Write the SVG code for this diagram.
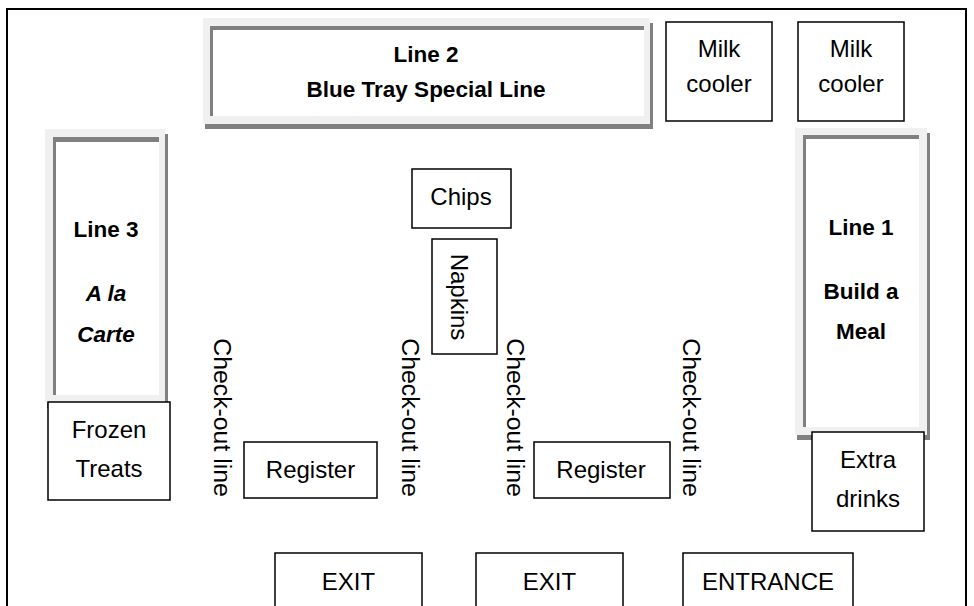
<svg xmlns="http://www.w3.org/2000/svg" width="974" height="606" viewBox="0 0 974 606">
<style>
.bg{fill:#fff}
.border{fill:none;stroke:#000;stroke-width:2}
.box{fill:#fff;stroke:#000;stroke-width:1.5}
.sh{fill:#808080}
.lg{fill:#f0f0f0}
.dk{fill:#808080}
.wh{fill:#fff}
.t{font-family:"Liberation Sans",Arial,sans-serif;font-size:24px;fill:#000;text-anchor:middle}
.b{font-weight:bold;font-size:22.5px}
.i{font-style:italic}
.c{font-size:24.8px}
</style>
<rect class="bg" x="0" y="0" width="974" height="606"/>
<rect id="room" class="border" x="7" y="9" width="959" height="620"/>

<g id="line2">
  <rect class="sh" x="205" y="23" width="448" height="106"/>
  <rect class="lg" x="203" y="18" width="447" height="106"/>
  <rect class="dk" x="210" y="26" width="434" height="90"/>
  <rect class="wh" x="213" y="30" width="431" height="86"/>
  <text class="t b" x="426" y="62">Line 2</text>
  <text class="t b" x="426" y="97">Blue Tray Special Line</text>
</g>

<g id="line3">
  <rect class="sh" x="47" y="134" width="121" height="274"/>
  <rect class="lg" x="45" y="129" width="120" height="274"/>
  <rect class="dk" x="53" y="137" width="106" height="258"/>
  <rect class="wh" x="56" y="142" width="103" height="253"/>
  <text class="t b" x="106" y="237">Line 3</text>
  <text class="t b i" x="106" y="301">A la</text>
  <text class="t b i" x="106" y="342">Carte</text>
</g>

<g id="line1">
  <rect class="sh" x="797" y="133" width="133" height="307"/>
  <rect class="lg" x="795" y="128" width="132" height="307"/>
  <rect class="dk" x="803" y="135" width="116" height="292"/>
  <rect class="wh" x="806" y="139" width="113" height="288"/>
  <text class="t b" x="861" y="235">Line 1</text>
  <text class="t b" x="861" y="299">Build a</text>
  <text class="t b" x="861" y="339">Meal</text>
</g>

<g id="milk1">
  <rect class="box" x="666" y="22" width="106" height="99"/>
  <text class="t" x="719" y="57">Milk</text>
  <text class="t" x="719" y="92">cooler</text>
</g>

<g id="milk2">
  <rect class="box" x="798" y="22" width="106" height="99"/>
  <text class="t" x="851" y="57">Milk</text>
  <text class="t" x="851" y="92">cooler</text>
</g>

<g id="chips">
  <rect class="box" x="412" y="169" width="99" height="59"/>
  <text class="t" x="461" y="205">Chips</text>
</g>

<g id="napkins">
  <rect class="box" x="432" y="239" width="65" height="115"/>
  <text class="t" transform="translate(451,297) rotate(90)">Napkins</text>
</g>

<g id="checkout1">
  <text class="t c" transform="translate(214,417.5) rotate(90)">Check-out line</text>
</g>
<g id="checkout2">
  <text class="t c" transform="translate(402,417.5) rotate(90)">Check-out line</text>
</g>
<g id="checkout3">
  <text class="t c" transform="translate(507,417.5) rotate(90)">Check-out line</text>
</g>
<g id="checkout4">
  <text class="t c" transform="translate(683,417.5) rotate(90)">Check-out line</text>
</g>

<g id="frozen">
  <rect class="box" x="48" y="402" width="122" height="98"/>
  <text class="t" x="109" y="438">Frozen</text>
  <text class="t" x="109" y="477">Treats</text>
</g>

<g id="extra">
  <rect class="box" x="812" y="432" width="112" height="99"/>
  <text class="t" x="868" y="468">Extra</text>
  <text class="t" x="868" y="507">drinks</text>
</g>

<g id="register1">
  <rect class="box" x="244" y="442" width="133" height="56"/>
  <text class="t" x="310.5" y="478">Register</text>
</g>

<g id="register2">
  <rect class="box" x="534" y="442" width="136" height="56"/>
  <text class="t" x="601" y="478">Register</text>
</g>

<g id="exit1">
  <rect class="box" x="275" y="553" width="147" height="70"/>
  <text class="t" x="348.5" y="590">EXIT</text>
</g>

<g id="exit2">
  <rect class="box" x="476" y="553" width="147" height="70"/>
  <text class="t" x="549.5" y="590">EXIT</text>
</g>

<g id="entrance">
  <rect class="box" x="683" y="553" width="170" height="70"/>
  <text class="t" x="768" y="590">ENTRANCE</text>
</g>

<g id="connectors"/>
</svg>
